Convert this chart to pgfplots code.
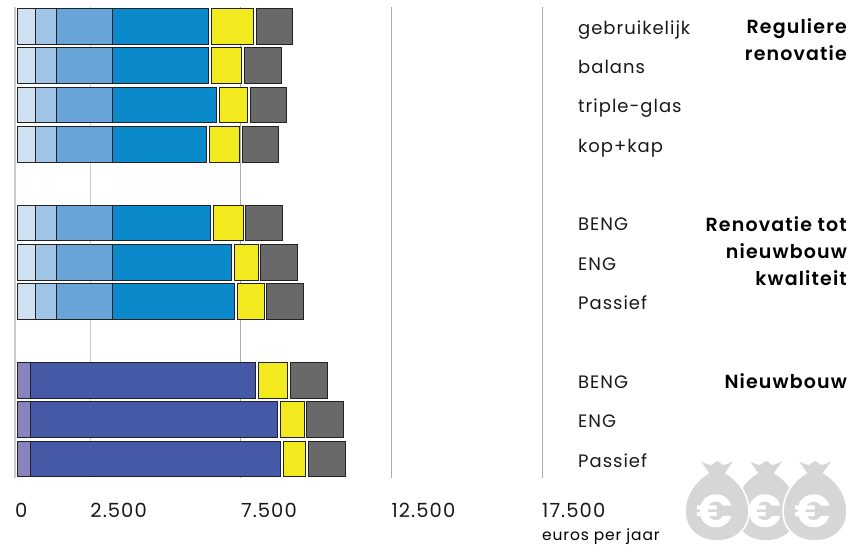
\documentclass[border=0pt]{standalone}
\usepackage{fontspec}
\setmainfont{Poppins}[LetterSpace=5.5]
\newfontfamily\headfont{Poppins SemiBold}[LetterSpace=6]
\usepackage{pgfplots}
\usepackage{pgfplotstable}
\pgfplotsset{compat=1.18}

\definecolor{c1}{HTML}{CFE0F1}
\definecolor{c2}{HTML}{A0C4E6}
\definecolor{c3}{HTML}{69A4D8}
\definecolor{c4}{HTML}{0B8ACB}
\definecolor{cp}{HTML}{8A83BF}
\definecolor{cn}{HTML}{4659A6}
\definecolor{cy}{HTML}{F2EA1F}
\definecolor{cg}{HTML}{696969}
\definecolor{edge}{HTML}{222222}
\definecolor{bagc}{HTML}{D6D6D6}

% euros per jaar; start, g1 and g2 are the empty offsets and gaps
\pgfplotstableread{
y  start s1  s2  s3   s4   p   n    g1  ye   g2  gr
0  76    598 687 1870 3178 0   0    110 1385 100 1206
1  76    598 687 1870 3188 0   0    100 1010 87  1219
2  76    598 687 1870 3467 0   0    87  943  87  1209
3  76    598 687 1870 3135 0   0    87  1010 87  1209
5  76    598 687 1870 3268 0   0    87  986  90  1216
6  76    598 687 1870 3965 0   0    87  787  90  1216
7  76    598 687 1870 4052 0   0    90  897  90  1216
9  76    0   0   0    0    445 7473 87  976  100 1229
10 76    0   0   0    0    445 8190 90  797  77  1229
11 76    0   0   0    0    445 8303 87  744  87  1219
}\costs

\newcommand{\seg}[2]{\addplot[fill=#1,draw=edge,line width=0.9pt] table[x=#2,y=y] {\costs};}
\newcommand{\gap}[1]{\addplot[draw=none,fill=none] table[x=#1,y=y] {\costs};}

% money bag, cx is the middle in pixels
\newcommand{\bag}[1]{%
  \fill[bagc,draw=white,line width=1.6pt]
    (#1-20,457) .. controls (#1-14,462) and (#1-9,464) .. (#1-6,464)
    .. controls (#1-3,462) and (#1-2,460) .. (#1,460)
    .. controls (#1+2,460) and (#1+3,462) .. (#1+6,464)
    .. controls (#1+9,464) and (#1+14,462) .. (#1+20,457)
    -- (#1+9,473)
    .. controls (#1+24,482) and (#1+32,497) .. (#1+32,511)
    .. controls (#1+32,530) and (#1+18,541) .. (#1,541)
    .. controls (#1-18,541) and (#1-32,530) .. (#1-32,511)
    .. controls (#1-32,497) and (#1-24,482) .. (#1-9,473) -- cycle;
  \node[text=white,font=\fontsize{46}{46}\selectfont\bfseries,inner sep=0pt] at (#1-2,511) {€};
}

\begin{document}
\begin{tikzpicture}
  \path[use as bounding box] (-15pt,-66pt) rectangle (835pt,478pt);
  \begin{axis}[
    scale only axis,
    width=527pt, height=471pt,
    xmin=0, xmax=17500,
    ymin=-0.488, ymax=11.483,
    y dir=reverse,
    clip=false,
    xbar stacked,
    bar width=35.5pt,
    axis line style={draw=none},
    major tick length=0pt,
    xmajorgrids,
    major grid style={draw=black!32,line width=0.8pt},
    xtick={7500,12500,17500},
    extra x ticks={0,2500},
    extra x tick style={major grid style={draw=black!20,line width=1.3pt}},
    /pgf/number format/assume math mode=true,
    /pgf/number format/1000 sep={.},
    scaled x ticks=false,
    xticklabel style={anchor=base west,inner sep=0pt,yshift=-39pt,font=\fontsize{19.5}{19.5}\selectfont,text=black!90},
    ytick={0,1,2,3,5,6,7,9,10,11},
    yticklabels={gebruikelijk,balans,triple-glas,kop+kap,BENG,ENG,Passief,BENG,ENG,Passief},
    yticklabel pos=right,
    yticklabel style={anchor=base west,inner sep=0pt,xshift=36pt,yshift=-8pt,font=\fontsize{18}{18}\selectfont,text=black!90},
  ]
    \gap{start}
    \seg{c1}{s1}
    \seg{c2}{s2}
    \seg{c3}{s3}
    \seg{c4}{s4}
    \seg{cp}{p}
    \seg{cn}{n}
    \gap{g1}
    \seg{cy}{ye}
    \gap{g2}
    \seg{cg}{gr}
  \end{axis}
  % from here on coordinates are reference pixels
  \begin{scope}[x=1pt,y=-1pt,shift={(-15pt,478pt)}]
    \bag{766}
    \bag{717}
    \bag{815}
    \node[anchor=east,align=right,inner sep=0pt,font=\fontsize{19}{27}\selectfont\headfont] at (847,40) {Reguliere\\renovatie};
    \node[anchor=east,align=right,inner sep=0pt,font=\fontsize{19}{27}\selectfont\headfont] at (847,251) {Renovatie tot\\nieuwbouw\\kwaliteit};
    \node[anchor=east,inner sep=0pt,font=\fontsize{19}{27}\selectfont\headfont] at (847,381) {Nieuwbouw};
    \node[anchor=base west,inner sep=0pt,font=\fontsize{15.5}{15.5}\selectfont] at (542,540) {euros per jaar};
  \end{scope}
\end{tikzpicture}
\end{document}
